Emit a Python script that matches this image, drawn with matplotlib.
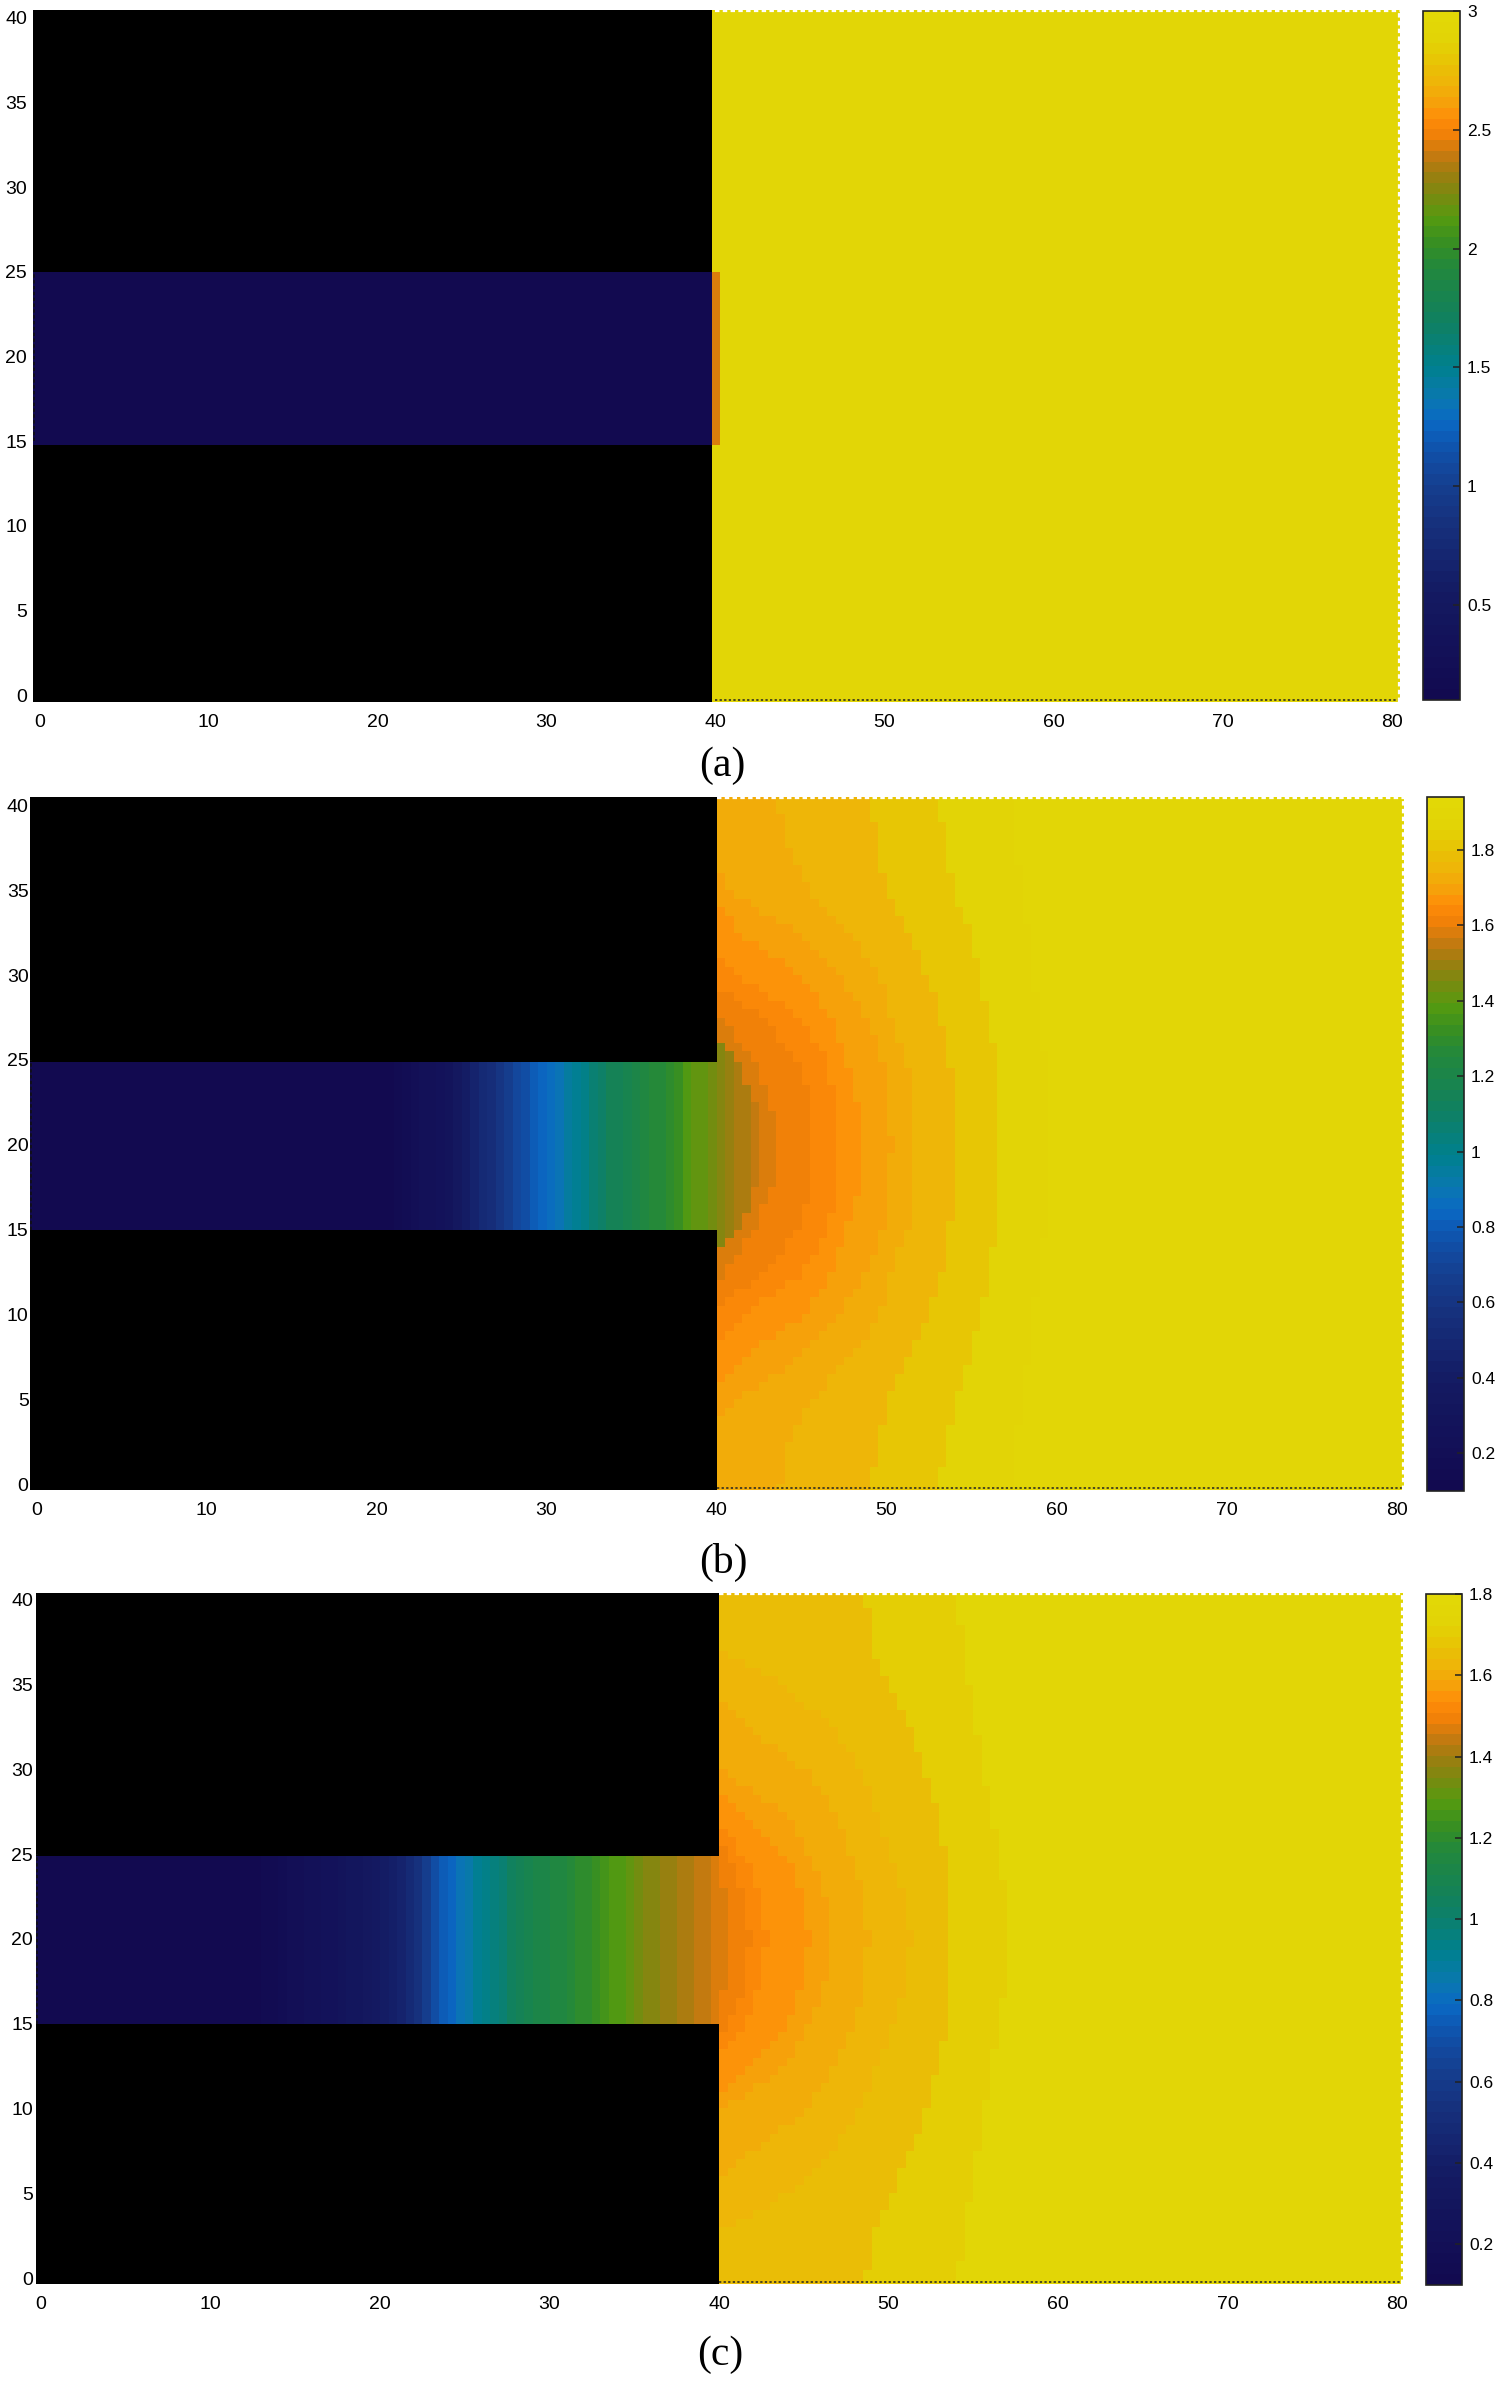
import numpy as np
import matplotlib
matplotlib.use("Agg")
import matplotlib.pyplot as plt
from matplotlib.colors import LinearSegmentedColormap, Normalize
from matplotlib.cm import ScalarMappable

W, H = 1500, 2384

# colour scale (fraction, colour)
cmap_stops = [
    (0.00, "#120a50"), (0.15, "#141a62"), (0.25, "#16307c"), (0.31, "#153f90"),
    (0.357, "#1050a8"), (0.403, "#0a68c4"), (0.437, "#0a78b0"), (0.483, "#00808e"),
    (0.55, "#108060"), (0.63, "#22883c"), (0.67, "#3a9020"), (0.703, "#559a10"),
    (0.737, "#7b8a10"), (0.77, "#a07d10"), (0.797, "#c87a10"), (0.823, "#f08008"),
    (0.85, "#ff8c08"), (0.877, "#f5a50a"), (0.903, "#eeb508"), (0.93, "#e8c205"),
    (0.95, "#e4cd05"), (0.97, "#e2d506"), (1.00, "#e2d806"),
]
cmap = LinearSegmentedColormap.from_list("wave", cmap_stops, N=64)
cmap.set_bad("black")

x_ticks = [0, 10, 20, 30, 40, 50, 60, 70, 80]
y_ticks = [0, 5, 10, 15, 20, 25, 30, 35, 40]

# panel (a): blocks of constant value
a_x_edges = [-0.38, 39.8, 40.25, 80.5]
a_y_edges = [-0.38, 14.8, 25.0, 40.47]
a_low = 0.13
a_front = 2.43
a_high = 2.94
a_cbar_ticks = [0.5, 1, 1.5, 2, 2.5, 3]
a_cbar_labels = ["0.5", "1", "1.5", "2", "2.5", "3"]

# distance from the slit axis at which each front position was read
front_rows = [0, 2.5, 5, 7.5, 10, 12.5, 15, 17.5, 20]

# panel (b): channel profile per unit x
b_profile = [0.11] * 22 + [0.19, 0.23, 0.28, 0.36, 0.50, 0.56, 0.68, 0.78, 0.84, 0.92, 0.99,
                           1.09, 1.15, 1.20, 1.24, 1.29, 1.35, 1.41, 1.45, 1.51, 1.54, 1.57]
b_fronts = [
    [42.7, 42.3, 41.2, 39, 39, 39, 39, 39, 39],
    [43.7, 43.2, 42.2, 40.4, 39, 39, 39, 39, 39],
    [45.7, 45.6, 44.7, 42.9, 39, 39, 39, 39, 39],
    [47.2, 47.0, 46.5, 45.0, 41.5, 39, 39, 39, 39],
    [48.6, 48.3, 47.6, 46.8, 45.0, 41.5, 39.5, 39, 39],
    [50.3, 50.1, 49.8, 48.8, 47.2, 44.8, 41.0, 39, 39],
    [51.7, 51.6, 51.2, 50.2, 49.6, 47.8, 45.5, 44.2, 43.7],
    [54.0, 53.9, 53.7, 53.2, 52.4, 51.2, 50.0, 49.5, 49.1],
    [56.7, 56.7, 56.4, 56.0, 55.5, 54.9, 54.0, 53.5, 53.1],
    [59.5, 59.5, 59.3, 59.0, 58.6, 58.3, 58.0, 57.6, 57.3],
]
b_bands = [1.57, 1.61, 1.65, 1.67, 1.69, 1.72, 1.76, 1.80, 1.86, 1.91]
b_cbar_ticks = [0.2, 0.4, 0.6, 0.8, 1, 1.2, 1.4, 1.6, 1.8]
b_cbar_labels = ["0.2", "0.4", "0.6", "0.8", "1", "1.2", "1.4", "1.6", "1.8"]

# panel (c)
c_profile = [0.12] * 14 + [0.16, 0.19, 0.22, 0.25, 0.28, 0.32, 0.36, 0.42, 0.50, 0.66, 0.77,
                           0.85, 0.92, 0.98, 1.05, 1.10, 1.14, 1.17, 1.20, 1.25, 1.28, 1.32,
                           1.36, 1.38, 1.42, 1.44, 1.46, 1.49]
c_fronts = [
    [40.8, 40.5, 39, 39, 39, 39, 39, 39, 39],
    [41.8, 41.6, 40.5, 39, 39, 39, 39, 39, 39],
    [42.8, 42.5, 41.5, 39.5, 39, 39, 39, 39, 39],
    [43.8, 43.6, 42.4, 39.8, 39, 39, 39, 39, 39],
    [45.3, 45.0, 44.0, 41.5, 39, 39, 39, 39, 39],
    [46.7, 46.3, 45.3, 43.9, 40.1, 39, 39, 39, 39],
    [48.8, 48.6, 47.9, 46.8, 45.2, 41.8, 39, 39, 39],
    [51.3, 51.0, 50.2, 49.3, 48.3, 46.7, 44.0, 39.5, 39],
    [53.7, 53.6, 53.4, 52.9, 52.2, 51.3, 50.1, 48.9, 48.7],
    [57.0, 56.9, 56.5, 56.1, 55.6, 55.2, 54.8, 54.4, 54.1],
]
c_bands = [1.49, 1.52, 1.54, 1.56, 1.575, 1.59, 1.63, 1.66, 1.70, 1.77]
c_cbar_ticks = [0.2, 0.4, 0.6, 0.8, 1, 1.2, 1.4, 1.6, 1.8]
c_cbar_labels = ["0.2", "0.4", "0.6", "0.8", "1", "1.2", "1.4", "1.6", "1.8"]


def px_axes(fig, left, right, top, bottom):
    return fig.add_axes([left / W, 1 - bottom / H, (right - left) / W, (bottom - top) / H])


AXIS_FONT = ["Liberation Sans Narrow", "Liberation Sans"]
CB_FONT = ["Liberation Sans"]


def dress(ax, xlim, ylim, ypad):
    ax.set_xlim(*xlim)
    ax.set_ylim(*ylim)
    ax.set_xticks(x_ticks)
    ax.set_yticks(y_ticks)
    ax.set_xticklabels([str(v) for v in x_ticks], family=AXIS_FONT, fontsize=14)
    ax.set_yticklabels([str(v) for v in y_ticks], family=AXIS_FONT, fontsize=14)
    ax.tick_params(axis="both", length=0)
    ax.tick_params(axis="x", pad=8.8)
    ax.tick_params(axis="y", pad=ypad)
    for s in ax.spines.values():
        s.set_visible(False)
    # scalloped fringe of the simulation cells
    ax.plot([40, xlim[1]], [ylim[0] + 0.1, ylim[0] + 0.1], ls=(0, (1.5, 1.5)), color="#222222", lw=1.1)
    ax.plot([40, xlim[1]], [ylim[1] - 0.05, ylim[1] - 0.05], ls=(0, (2, 1.5)), color="white", lw=1.6)
    ax.plot([xlim[1] - 0.03] * 2, list(ylim), ls=(0, (2, 1.5)), color="white", lw=1.6)
    ax.plot([xlim[0] + 0.03] * 2, [15, 25], ls=(0, (2, 1.5)), color="#111111", lw=1.2)


def colorbar(fig, rect, vmin, vmax, ticks, labels):
    cax = px_axes(fig, *rect)
    cb = fig.colorbar(ScalarMappable(Normalize(vmin, vmax), cmap), cax=cax)
    cb.set_ticks(ticks)
    cb.set_ticklabels(labels)
    cax.tick_params(axis="y", direction="in", length=5, width=1.1, pad=5, color="#222222")
    for lb in cax.get_yticklabels():
        lb.set_family(CB_FONT)
        lb.set_fontsize(12.5)
    cb.outline.set_linewidth(1.2)
    cb.outline.set_edgecolor("#222222")


def field_panel(ax, profile, fronts, bands, vmin, vmax, channel_top):
    xe = np.arange(-1.0, 81.01, 0.5)
    ye = np.arange(-1.0, 41.01, 0.5)
    xc = 0.5 * (xe[1:] + xe[:-1])
    yc = 0.5 * (ye[1:] + ye[:-1])
    X, Y = np.meshgrid(xc, yc)
    d = np.abs(Y - 19.9)
    count = np.zeros_like(X, dtype=int)
    for f in fronts:
        count += (X >= np.interp(d, front_rows, f)).astype(int)
    count[X < 40] = 0
    Z = np.interp(X, np.arange(len(profile)), profile)
    passed = count > 0
    Z[passed] = np.array(bands)[count[passed] - 1]
    Z = np.ma.masked_where((X < 40) & ((Y < 15) | (Y > 25)), Z)
    ye = ye.copy()
    ye[np.isclose(ye, 25.0)] = channel_top
    ax.pcolormesh(xe, ye, Z, cmap=cmap, norm=Normalize(vmin, vmax), shading="flat")


fig = plt.figure(figsize=(W / 100, H / 100), dpi=100, facecolor="white")

# (a)
ax = px_axes(fig, 33, 1400, 10, 701.5)
Za = np.ma.masked_invalid(np.array([
    [np.nan, a_high, a_high],
    [a_low, a_front, a_high],
    [np.nan, a_high, a_high],
]))
ax.pcolormesh(a_x_edges, a_y_edges, Za, cmap=cmap, norm=Normalize(0.1, 3.0), shading="flat")
dress(ax, (-0.38, 80.5), (-0.38, 40.47), 4.3)
colorbar(fig, (1423, 1460, 11, 700), 0.1, 3.0, a_cbar_ticks, a_cbar_labels)

# (b)
ax = px_axes(fig, 30, 1404, 797, 1490)
field_panel(ax, b_profile, b_fronts, b_bands, 0.1, 1.94, 24.85)
dress(ax, (-0.38, 80.43), (-0.35, 40.5), 1)
colorbar(fig, (1427, 1464, 797, 1491), 0.1, 1.94, b_cbar_ticks, b_cbar_labels)

# (c)
ax = px_axes(fig, 36, 1403, 1593, 2284)
field_panel(ax, c_profile, c_fronts, c_bands, 0.1, 1.8, 24.9)
dress(ax, (-0.3, 80.35), (-0.35, 40.4), 2.2)
colorbar(fig, (1426, 1462, 1594, 2285), 0.1, 1.8, c_cbar_ticks, c_cbar_labels)

for label, px, py in [("(a)", 722, 766), ("(b)", 723, 1562), ("(c)", 720, 2355)]:
    fig.text(px / W, 1 - py / H, label, family=["Liberation Serif"], fontsize=30,
             ha="center", va="center", color="black")

fig.savefig("out.png", dpi=100)
